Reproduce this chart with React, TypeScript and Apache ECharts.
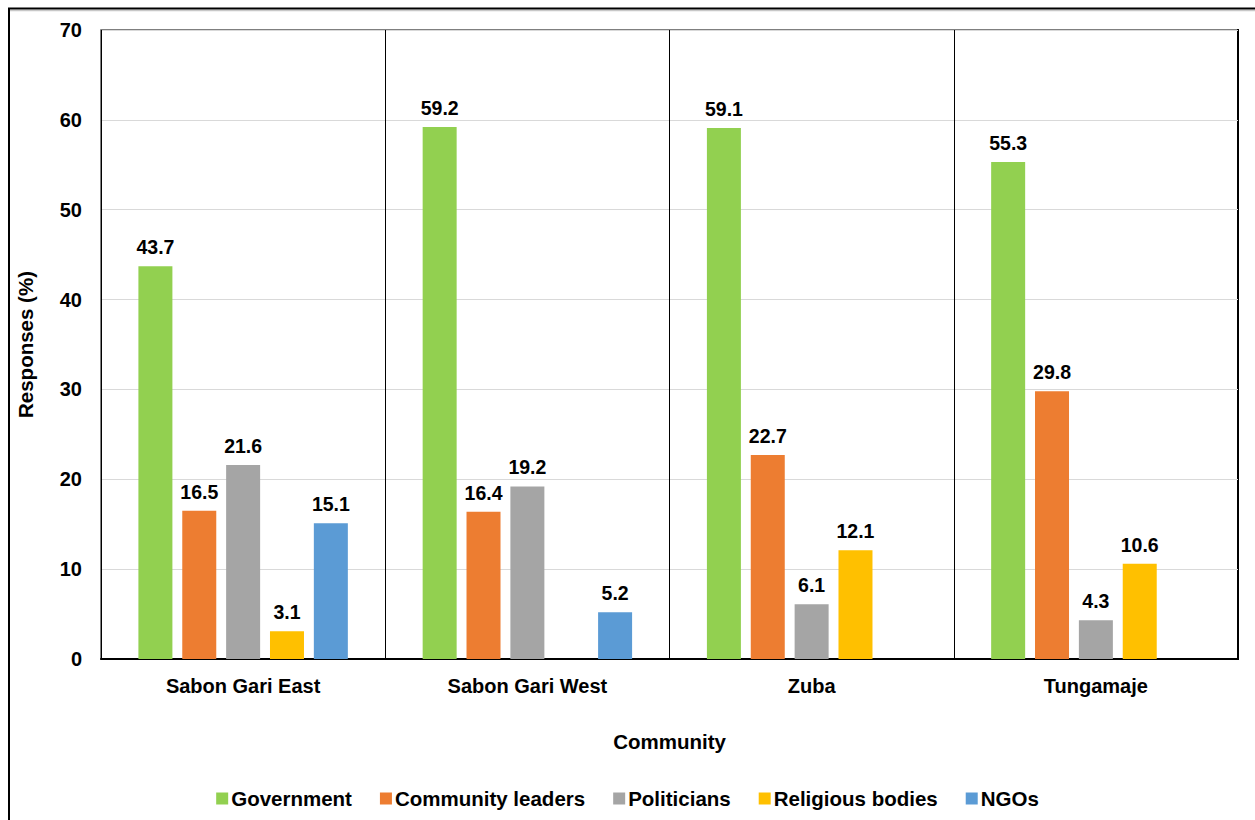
import React, { useEffect, useRef } from "react";
import * as echarts from "echarts";

const communities = ["Sabon Gari East", "Sabon Gari West", "Zuba", "Tungamaje"];
const seriesNames = ["Government", "Community leaders", "Politicians", "Religious bodies", "NGOs"];
const seriesColors = ["#92D050", "#ED7D31", "#A5A5A5", "#FFC000", "#5B9BD5"];

const government = [43.7, 59.2, 59.1, 55.3];
const communityLeaders = [16.5, 16.4, 22.7, 29.8];
const politicians = [21.6, 19.2, 6.1, 4.3];
const religiousBodies = [3.1, null, 12.1, 10.6];
const ngos = [15.1, 5.2, null, null];

const seriesValues = [government, communityLeaders, politicians, religiousBodies, ngos];

const yTicks = { min: 0, max: 70, interval: 10 };

const FONT = "'Liberation Sans', Arial, Helvetica, sans-serif";

export default function App() {
  const ref = useRef<HTMLDivElement>(null);

  useEffect(() => {
    document.body.style.margin = "0";
    if (!ref.current) return;
    const chart = echarts.init(ref.current, null, { renderer: "svg" });

    const baseText = { fontFamily: FONT, fontWeight: "bold" as const, color: "#000", fontSize: 20 };
    const bigText = { ...baseText, fontSize: 20.5 };

    chart.setOption({
      animation: false,
      backgroundColor: "#fff",
      grid: {
        left: 101,
        top: 30,
        right: 17,
        bottom: 161,
        show: true,
        borderColor: "#555",
        borderWidth: 1.5,
        containLabel: false,
      },
      legend: {
        data: seriesNames,
        top: 783,
        left: "center",
        itemWidth: 12,
        itemHeight: 12,
        itemGap: 28,
        icon: "rect",
        textStyle: { ...bigText, padding: [2, 0, 0, -2] },
      },
      xAxis: {
        type: "category",
        data: communities,
        name: "Community",
        nameLocation: "middle",
        nameGap: 72,
        nameTextStyle: bigText,
        axisLine: { show: true, lineStyle: { color: "#000", width: 2 } },
        axisTick: { show: false },
        axisLabel: { ...baseText, margin: 17 },
        splitLine: { show: true, lineStyle: { color: "#000", width: 1 } },
      },
      yAxis: {
        type: "value",
        min: yTicks.min,
        max: yTicks.max,
        interval: yTicks.interval,
        name: "Responses (%)",
        nameLocation: "middle",
        nameGap: 65,
        nameTextStyle: bigText,
        axisLine: { show: false },
        axisTick: { show: false },
        axisLabel: { ...baseText, margin: 19 },
        splitLine: { show: true, lineStyle: { color: "#d9d9d9", width: 1 } },
      },
      series: seriesNames.map((name, i) => ({
        name,
        type: "bar",
        data: seriesValues[i],
        barWidth: 34,
        barGap: "29%",
        itemStyle: { color: seriesColors[i] },
        label: {
          show: true,
          position: "top",
          distance: 9,
          ...baseText,
          fontSize: 19.5,
          formatter: (p: any) => (p.value == null ? "" : Number(p.value).toFixed(1)),
        },
      })),
      graphic: [
        // outer frame
        { type: "line", shape: { x1: 9, y1: 10.5, x2: 1255, y2: 10.5 }, style: { stroke: "#c8c8c8", lineWidth: 1.5 }, silent: true },
        { type: "line", shape: { x1: 8, y1: 8.5, x2: 1255, y2: 8.5 }, style: { stroke: "#000", lineWidth: 2 }, silent: true },
        { type: "line", shape: { x1: 9, y1: 8, x2: 9, y2: 820 }, style: { stroke: "#000", lineWidth: 2 }, silent: true },
        // right edge of plot
        { type: "line", shape: { x1: 1238, y1: 29, x2: 1238, y2: 660 }, style: { stroke: "#000", lineWidth: 2 }, silent: true },
      ],
    });

    return () => chart.dispose();
  }, []);

  return <div ref={ref} style={{ width: 1255, height: 820 }} />;
}
